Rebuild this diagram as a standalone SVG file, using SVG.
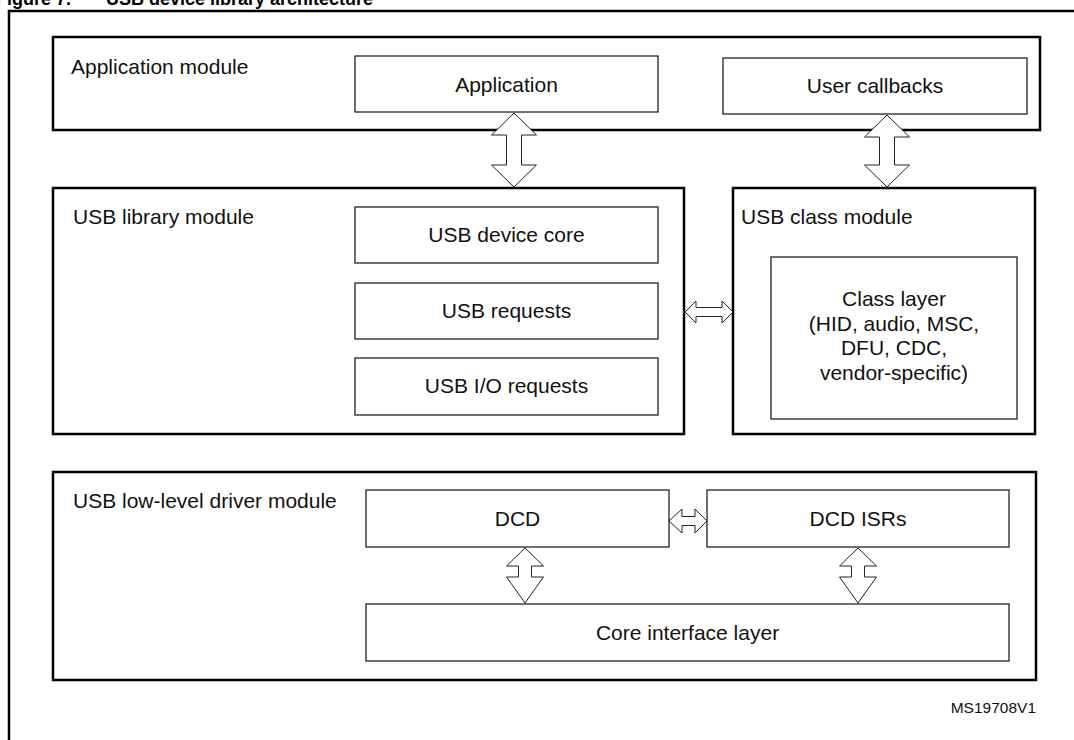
<svg xmlns="http://www.w3.org/2000/svg" width="1074" height="740" viewBox="0 0 1074 740">
<style>
.mod{fill:none;stroke:#000;stroke-width:2.5}
.box{fill:#fff;stroke:#222;stroke-width:1.3}
.arr{fill:#fff;stroke:#222;stroke-width:1}
text{font-family:"Liberation Sans",Arial,sans-serif;font-size:21px;fill:#111}
.c{text-anchor:middle}
.title{font-weight:bold;font-size:18px;fill:#000}
</style>
<rect width="1074" height="740" fill="#fff"/>
<text class="title" x="-4" y="5">Figure 7.</text>
<text class="title" x="106" y="5">USB device library architecture</text>
<path d="M9,740 V11 H1074" fill="none" stroke="#000" stroke-width="2.5"/>

<g id="application-module">
<rect class="mod" x="53" y="37" width="987" height="93"/>
<text x="71" y="74">Application module</text>
</g>
<g id="application">
<rect class="box" x="355" y="56" width="303" height="56"/>
<text class="c" x="506.5" y="91.5">Application</text>
</g>
<g id="user-callbacks">
<rect class="box" x="723" y="58" width="304" height="56"/>
<text class="c" x="875" y="93">User callbacks</text>
</g>

<g id="usb-library-module">
<rect class="mod" x="53" y="188" width="631" height="246"/>
<text x="73" y="224">USB library module</text>
</g>
<g id="usb-device-core">
<rect class="box" x="355" y="207" width="303" height="56"/>
<text class="c" x="506.5" y="242">USB device core</text>
</g>
<g id="usb-requests">
<rect class="box" x="355" y="283" width="303" height="56"/>
<text class="c" x="506.5" y="318">USB requests</text>
</g>
<g id="usb-io-requests">
<rect class="box" x="355" y="358" width="303" height="57"/>
<text class="c" x="506.5" y="393">USB I/O requests</text>
</g>

<g id="usb-class-module">
<rect class="mod" x="733" y="188" width="302" height="246"/>
<text x="741" y="224">USB class module</text>
</g>
<g id="class-layer">
<rect class="box" x="771" y="257" width="246" height="162"/>
<text class="c" x="894" y="306">Class layer</text>
<text class="c" x="894" y="330.5">(HID, audio, MSC,</text>
<text class="c" x="894" y="355">DFU, CDC,</text>
<text class="c" x="894" y="380">vendor-specific)</text>
</g>

<g id="usb-low-level-driver-module">
<rect class="mod" x="53" y="472" width="983" height="208"/>
<text x="73" y="508">USB low-level driver module</text>
</g>
<g id="dcd">
<rect class="box" x="366" y="490" width="303" height="57"/>
<text class="c" x="517.5" y="526">DCD</text>
</g>
<g id="dcd-isrs">
<rect class="box" x="707" y="490" width="302" height="57"/>
<text class="c" x="858" y="526">DCD ISRs</text>
</g>
<g id="core-interface-layer">
<rect class="box" x="366" y="604" width="643" height="57"/>
<text class="c" x="687.5" y="640">Core interface layer</text>
</g>

<g id="connectors">
<polygon class="arr" points="514,113 536.5,135 521.5,135 521.5,165 536.5,165 514,187 491.5,165 506.5,165 506.5,135 491.5,135"/>
<polygon class="arr" points="887,115 909.5,137 894.5,137 894.5,165 909.5,165 887,187 864.5,165 879.5,165 879.5,137 864.5,137"/>
<polygon class="arr" points="685,312 696,301 696,307.5 722,307.5 722,301 733,312 722,323 722,316.5 696,316.5 696,323"/>
<polygon class="arr" points="669,521 682,509 682,516.5 695,516.5 695,509 707,521 695,533 695,525.5 682,525.5 682,533"/>
<polygon class="arr" points="525,548 543.5,566 531.5,566 531.5,577 543.5,577 525,603 506.5,577 518.5,577 518.5,566 506.5,566"/>
<polygon class="arr" points="858,548 876.5,566 864.5,566 864.5,577 876.5,577 858,603 839.5,577 851.5,577 851.5,566 839.5,566"/>
</g>

<text x="1036" y="713" style="font-size:15.5px;text-anchor:end">MS19708V1</text>
</svg>
